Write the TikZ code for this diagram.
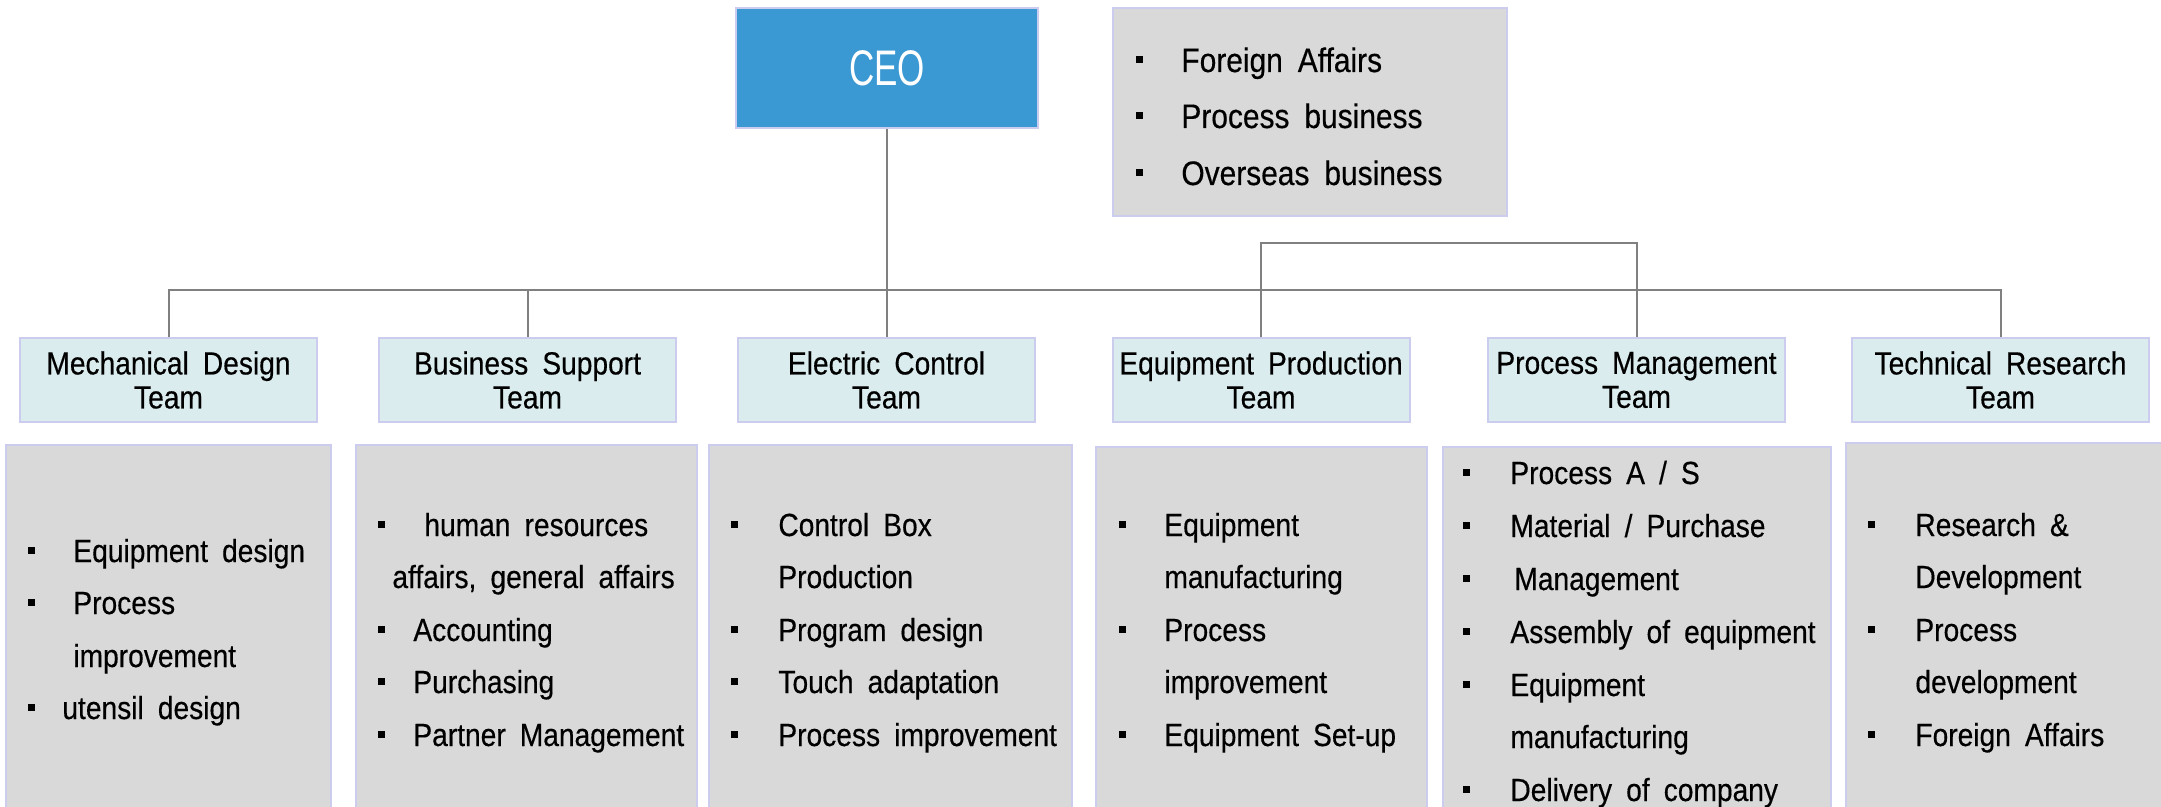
\documentclass[tikz,border=0pt]{standalone}
\usepackage{fontspec}
\setmainfont{Liberation Sans}[FakeStretch=0.88,WordSpace=1.8,FakeBold=0.4]
\newfontfamily\ceofont{Liberation Sans}[FakeStretch=0.7]
\definecolor{ceoblue}{RGB}{58,152,211}
\definecolor{teamfill}{RGB}{218,236,238}
\definecolor{boxgray}{RGB}{217,217,217}
\definecolor{lav}{RGB}{204,204,238}
\definecolor{linegray}{RGB}{128,128,128}
\tikzset{
  conn/.style={draw=linegray,line width=1pt},
  ceobox/.style={fill=ceoblue,draw=lav,line width=0.8pt,minimum width=151pt,minimum height=60pt,inner sep=0pt},
  teambox/.style={fill=teamfill,draw=lav,line width=1pt,minimum width=148.5pt,minimum height=41.5pt,inner sep=0pt,align=center,font=\fontsize{16}{17}\selectfont},
  graybox/.style={fill=boxgray,draw=lav,line width=1pt},
  dtxt/.style={inner sep=0pt,anchor=base west,font=\fontsize{16}{19}\selectfont},
  atxt/.style={inner sep=0pt,anchor=base west,font=\fontsize{17}{19}\selectfont},
}
% #1 name, #2 bullet x, #3 text x, #4 baseline y, #5 text, #6 style
\newcommand\bitem[6]{%
  \fill (#2,#4-15.5) rectangle ++(7,7);
  \node[#6] (#1) at (#3,#4) {#5};}
\begin{document}
\begin{tikzpicture}[x=0.5pt,y=-0.5pt]
\useasboundingbox (0,0) rectangle (2161,807);
\clip (0,0) rectangle (2161,807);
% detail boxes
\draw[graybox] (6,445) rectangle (331,815);
\draw[graybox] (356,445) rectangle (697,815);
\draw[graybox] (709,445) rectangle (1072,815);
\draw[graybox] (1096,447) rectangle (1427,815);
\draw[graybox] (1443,447) rectangle (1831,815);
\draw[graybox] (1846,443) rectangle (2170,815);
% affairs box
\draw[graybox] (1113,8) rectangle (1507,216);
% CEO
\node[ceobox] (ceo) at (887,68) {};
\node[inner sep=0pt,anchor=base,text=white,font=\ceofont\fontsize{25}{28}\selectfont] (ceot) at (887,86) {CEO};
% teams
\node[teambox] (mech) at (168.5,380) {Mechanical Design\\Team};
\node[teambox] (bsup) at (527.5,380) {Business Support\\Team};
\node[teambox] (elec) at (886.5,380) {Electric Control\\Team};
\node[teambox] (eqp) at (1261,380) {Equipment Production\\Team};
\node[teambox] (pm) at (1636.5,380) {Process Management\\Team};
\node[teambox] (tr) at (2000.5,380) {Technical Research\\Team};
% connectors
\coordinate (bus) at (0,290);
\coordinate (br) at (0,243);
\draw[conn] (ceo.south) -- (ceo.south |- bus);
\foreach \t in {mech,bsup,elec,eqp,pm,tr}{
  \draw[conn] (ceo.south |- bus) -| (\t.north);
}
\draw[conn] (eqp.north) -- (eqp.north |- br) -- (pm.north |- br) -- (pm.north);
% affairs text
\bitem{a1}{1136}{1181}{72}{Foreign Affairs}{atxt}
\bitem{a2}{1136}{1181}{128}{Process business}{atxt}
\bitem{a3}{1136}{1181}{185}{Overseas business}{atxt}
% box 1
\bitem{m1}{28}{73}{562}{Equipment design}{dtxt}
\bitem{m2}{28}{73}{614}{Process}{dtxt}
\node[dtxt] (m3) at (73,667) {improvement};
\bitem{m4}{28}{62}{719}{utensil design}{dtxt}
% box 2
\bitem{b1}{378}{424}{536}{human resources}{dtxt}
\node[dtxt] (b2) at (392,588) {affairs, general affairs};
\bitem{b3}{378}{413}{641}{Accounting}{dtxt}
\bitem{b4}{378}{413}{693}{Purchasing}{dtxt}
\bitem{b5}{378}{413}{746}{Partner Management}{dtxt}
% box 3
\bitem{e1}{731}{778}{536}{Control Box}{dtxt}
\node[dtxt] (e2) at (778,588) {Production};
\bitem{e3}{731}{778}{641}{Program design}{dtxt}
\bitem{e4}{731}{778}{693}{Touch adaptation}{dtxt}
\bitem{e5}{731}{778}{746}{Process improvement}{dtxt}
% box 4
\bitem{q1}{1119}{1164}{536}{Equipment}{dtxt}
\node[dtxt] (q2) at (1164,588) {manufacturing};
\bitem{q3}{1119}{1164}{641}{Process}{dtxt}
\node[dtxt] (q4) at (1164,693) {improvement};
\bitem{q5}{1119}{1164}{746}{Equipment Set-up}{dtxt}
% box 5
\bitem{p1}{1463}{1510}{484}{Process A / S}{dtxt}
\bitem{p2}{1463}{1510}{537}{Material / Purchase}{dtxt}
\bitem{p3}{1463}{1514}{590}{Management}{dtxt}
\bitem{p4}{1463}{1510}{643}{Assembly of equipment}{dtxt}
\bitem{p5}{1463}{1510}{696}{Equipment}{dtxt}
\node[dtxt] (p6) at (1510,748) {manufacturing};
\bitem{p7}{1463}{1510}{801}{Delivery of company}{dtxt}
% box 6
\bitem{t1}{1868}{1915}{536}{Research \&}{dtxt}
\node[dtxt] (t2) at (1915,588) {Development};
\bitem{t3}{1868}{1915}{641}{Process}{dtxt}
\node[dtxt] (t4) at (1915,693) {development};
\bitem{t5}{1868}{1915}{746}{Foreign Affairs}{dtxt}
\end{tikzpicture}
\end{document}
